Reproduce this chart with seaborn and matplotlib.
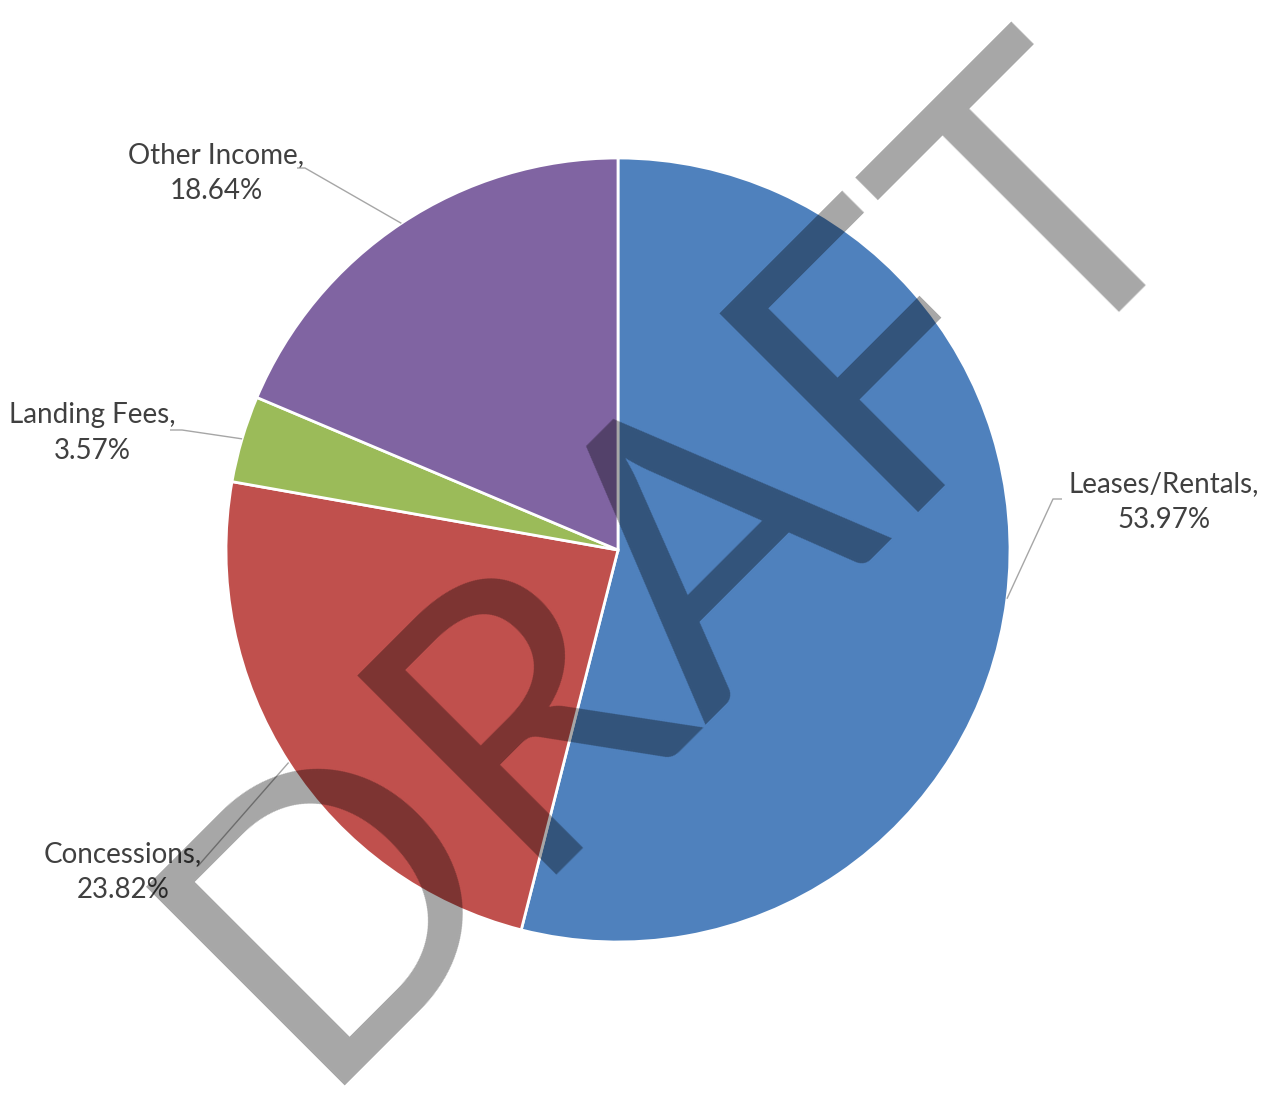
import matplotlib
matplotlib.use("Agg")
import numpy as np
import matplotlib.pyplot as plt
import seaborn as sns

# Revenue mix by source (percent of total)
categories = ["Leases/Rentals", "Concessions", "Landing Fees", "Other Income"]
shares = [53.97, 23.82, 3.57, 18.64]
slice_colors = ["#4F81BD", "#C0504D", "#9BBB59", "#8064A2"]

sns.set_theme(style="white")
plt.rcParams["font.family"] = ["Lato", "DejaVu Sans"]

W, H = 1266, 1100
fig = plt.figure(figsize=(W / 100, H / 100), dpi=100)
ax = fig.add_axes([0, 0, 1, 1])

# pixel-like data space: x to the right, y upward
cx, cy, r = 618, H - 550, 392
wedges, _ = ax.pie(
    shares, colors=slice_colors, startangle=90, counterclock=False,
    center=(cx, cy), radius=r,
    wedgeprops=dict(edgecolor="white", linewidth=2.0),
)
ax.set_xlim(0, W)
ax.set_ylim(0, H)
ax.set_aspect("equal")
ax.axis("off")

# label placement: text centre and the elbow of its leader (x, y from top)
label_layout = {
    "Leases/Rentals": dict(text=(1164, 502), start=(1062, 499), elbow=(1053, 499)),
    "Concessions": dict(text=(123, 872), start=(198, 866), elbow=(198, 866)),
    "Landing Fees": dict(text=(92, 433), start=(170, 430), elbow=(182, 430)),
    "Other Income": dict(text=(216, 173), start=(297, 168), elbow=(305, 168)),
}

for w, cat, share in zip(wedges, categories, shares):
    mid = np.deg2rad((w.theta1 + w.theta2) / 2)
    ex, ey = cx + r * np.cos(mid), cy + r * np.sin(mid)
    lay = label_layout[cat]
    sx, sy = lay["start"]
    bx, by = lay["elbow"]
    ax.plot([sx, bx, ex], [H - sy, H - by, ey], color="#A6A6A6", lw=1.0,
            solid_capstyle="butt", zorder=3)
    tx, ty = lay["text"]
    ax.text(tx, H - ty, f"{cat},\n{share:.2f}%", ha="center", va="center",
            fontsize=20, color="#404040", linespacing=1.45, zorder=4)

# diagonal watermark across the chart
fig.text(0.598, 0.420, "DRAFT", rotation=45, rotation_mode="anchor",
         ha="center", va="baseline", fontsize=283, color="black",
         alpha=0.35, zorder=10)

fig.savefig("out.png", dpi=100)
